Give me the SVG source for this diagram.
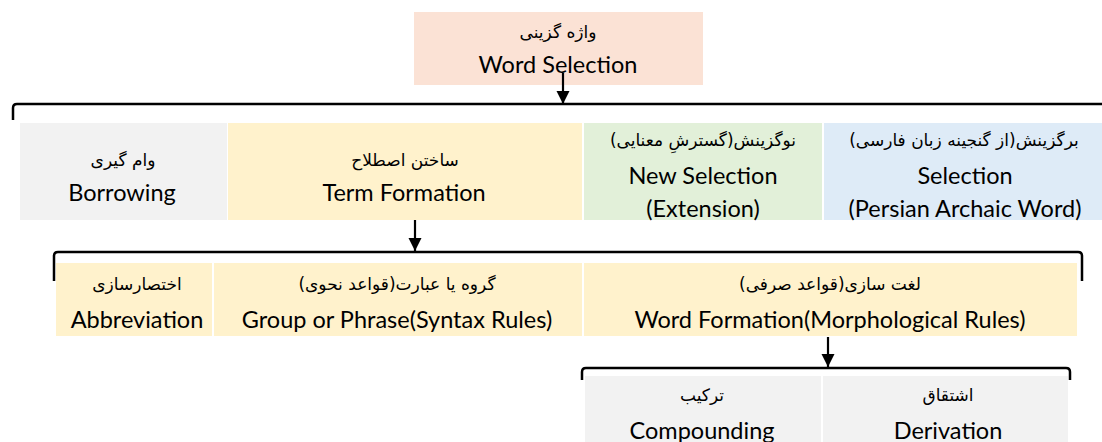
<svg xmlns="http://www.w3.org/2000/svg" width="1102" height="442" viewBox="0 0 1102 442">
<style>
.en{font-family:Lato,"Liberation Sans",sans-serif;font-size:23.5px;fill:#000;text-anchor:middle}
.fa{font-family:"DejaVu Sans",sans-serif;font-size:17px;fill:#000;text-anchor:middle;direction:rtl}
.br{fill:none;stroke:#000;stroke-width:2.5}
.ar{stroke:#000;stroke-width:2.2;fill:none;marker-end:url(#ah)}
.peach{fill:#FBE2D5}.gray{fill:#F2F2F2}.yel{fill:#FFF2CC}.grn{fill:#E2F0D9}.blu{fill:#DEEBF7}
</style>
<defs>
<marker id="ah" markerUnits="userSpaceOnUse" markerWidth="14" markerHeight="14" refX="13" refY="6.5" orient="auto">
<path d="M0,0 L13,6.5 L0,13 z" fill="#000"/>
</marker>
</defs>
<rect width="1102" height="442" fill="#fff"/>
<g id="word-selection">
<rect class="peach" x="414" y="12" width="289" height="73"/>
<text class="fa" x="558" y="38">واژه گزینی</text>
<text class="en" x="558" y="73">Word Selection</text>
</g>
<g id="borrowing">
<rect class="gray" x="20" y="123" width="207" height="97"/>
<text class="fa" x="123" y="166">وام گیری</text>
<text class="en" x="122" y="201">Borrowing</text>
</g>
<g id="term-formation">
<rect class="yel" x="228" y="123" width="354" height="97"/>
<text class="fa" x="405" y="166">ساختن اصطلاح</text>
<text class="en" x="404" y="201">Term Formation</text>
</g>
<g id="new-selection">
<rect class="grn" x="584" y="123" width="238" height="97"/>
<text class="fa" x="703" y="146">نوگزینش(گسترشِ معنایی)</text>
<text class="en" x="703" y="184">New Selection</text>
<text class="en" x="703" y="217">(Extension)</text>
</g>
<g id="selection">
<rect class="blu" x="824" y="123" width="283" height="97"/>
<text class="fa" x="964" y="146">برگزینش(از گنجینه زبان فارسی)</text>
<text class="en" x="965" y="184">Selection</text>
<text class="en" x="965" y="217">(Persian Archaic Word)</text>
</g>
<g id="abbreviation">
<rect class="yel" x="56" y="263" width="156" height="73"/>
<text class="fa" x="137" y="290">اختصارسازی</text>
<text class="en" x="137" y="328">Abbreviation</text>
</g>
<g id="group-phrase">
<rect class="yel" x="214" y="263" width="368" height="73"/>
<text class="fa" x="397" y="290">گروه یا عبارت(قواعد نحوی)</text>
<text class="en" x="397" y="328">Group or Phrase(Syntax Rules)</text>
</g>
<g id="word-formation">
<rect class="yel" x="584" y="263" width="493" height="73"/>
<text class="fa" x="830" y="290">لغت سازی(قواعد صرفی)</text>
<text class="en" x="830" y="328">Word Formation(Morphological Rules)</text>
</g>
<g id="compounding">
<rect class="gray" x="585" y="376" width="236" height="70"/>
<text class="fa" x="702" y="401">ترکیب</text>
<text class="en" x="702" y="439">Compounding</text>
</g>
<g id="derivation">
<rect class="gray" x="823" y="376" width="245" height="70"/>
<text class="fa" x="948" y="401">اشتقاق</text>
<text class="en" x="948" y="439">Derivation</text>
</g>
<g id="connectors">
<path class="br" d="M13,120 V108 Q13,104 17,104 H1104"/>
<path class="br" d="M54,281 V256 Q54,252 58,252 H1078 Q1082,252 1082,256 V281"/>
<path class="br" d="M582,380 V372 Q582,368 586,368 H1066 Q1070,368 1070,372 V380"/>
<line class="ar" x1="563" y1="73" x2="563" y2="104"/>
<line class="ar" x1="415" y1="220" x2="415" y2="251"/>
<line class="ar" x1="828" y1="337" x2="828" y2="367"/>
</g>
</svg>
